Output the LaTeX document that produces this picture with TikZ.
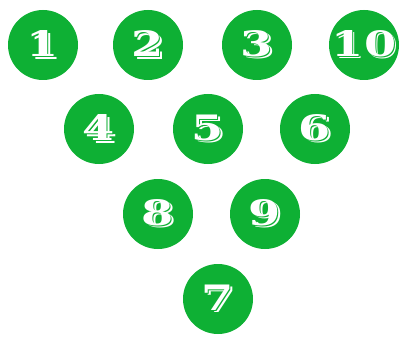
\documentclass[tikz,border=0pt]{standalone}
\usepackage{fontspec}
\newfontfamily\numfont{DejaVu Serif}[BoldFont={DejaVu Serif Bold}]
\definecolor{ballgreen}{RGB}{14,176,52}
\tikzset{
  ball/.style={circle, fill=ballgreen, minimum size=70pt, inner sep=0pt},
  numtxt/.style={inner sep=0pt, text=white, font=\numfont\bfseries\fontsize{35pt}{35pt}\selectfont, xscale=1.32, transform shape},
}
\newcommand{\shadowed}[1]{%
  \makebox[0pt][l]{\hspace{1.6pt}\raisebox{-2.2pt}{\color{white}#1}}%
  \makebox[0pt][l]{\hspace{0.8pt}\raisebox{-1.1pt}{\color{ballgreen}#1}}%
  {\color{white}#1}}
\newcommand{\ballnum}[4]{%
  \node[ball] (#1) at (#2pt,-#3pt) {};
  \node[numtxt] (#1t) at (#1.center) {\shadowed{#4}};
}
\begin{document}
\begin{tikzpicture}
\useasboundingbox (0,0) rectangle (401pt,-342pt);
\ballnum{b1}{43}{45}{1}
\ballnum{b2}{148}{45}{2}
\ballnum{b3}{257}{45}{3}
\ballnum{b10}{364}{45}{10}
\ballnum{b4}{99}{129}{4}
\ballnum{b5}{208}{129}{5}
\ballnum{b6}{315}{129}{6}
\ballnum{b8}{158}{214}{8}
\ballnum{b9}{265}{214}{9}
\ballnum{b7}{218}{299}{7}
\end{tikzpicture}
\end{document}
